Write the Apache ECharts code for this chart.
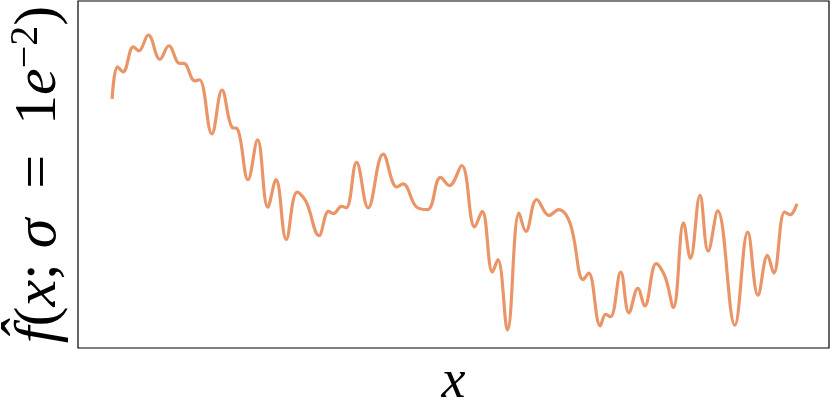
<!DOCTYPE html>
<html>
<head>
<meta charset="utf-8">
<script src="https://cdn.jsdelivr.net/npm/echarts@6/dist/echarts.min.js"></script>
<style>
  html, body { margin: 0; padding: 0; background: #fff; }
  #chart { width: 830px; height: 406px; }
</style>
</head>
<body>
<div id="chart"></div>
<script>
// sample positions and smoothed estimate
const xs = [
  0.000, 0.008, 0.016, 0.031, 0.039, 0.053, 0.070, 0.083, 0.099, 0.105,
  0.121, 0.128, 0.146, 0.161, 0.176, 0.183, 0.199, 0.213, 0.228, 0.240,
  0.255, 0.271, 0.284, 0.303, 0.317, 0.324, 0.336, 0.343, 0.358, 0.375,
  0.397, 0.417, 0.426, 0.446, 0.462, 0.481, 0.494, 0.512, 0.531, 0.542,
  0.557, 0.565, 0.579, 0.596, 0.606, 0.622, 0.640, 0.654, 0.671, 0.690,
  0.698, 0.715, 0.723, 0.730, 0.745, 0.757, 0.770, 0.780, 0.797, 0.810,
  0.822, 0.837, 0.847, 0.861, 0.873, 0.887, 0.912, 0.931, 0.946, 0.960,
  0.969, 0.985, 0.993, 1.003
];
const fHat = [
  0.718, 0.810, 0.796, 0.868, 0.856, 0.902, 0.832, 0.871, 0.820, 0.820,
  0.770, 0.773, 0.617, 0.743, 0.635, 0.633, 0.485, 0.600, 0.406, 0.485,
  0.313, 0.449, 0.422, 0.324, 0.394, 0.387, 0.408, 0.404, 0.535, 0.404,
  0.559, 0.464, 0.473, 0.406, 0.399, 0.492, 0.468, 0.526, 0.349, 0.394,
  0.219, 0.255, 0.052, 0.389, 0.336, 0.428, 0.382, 0.399, 0.358, 0.197,
  0.216, 0.064, 0.097, 0.090, 0.219, 0.101, 0.172, 0.121, 0.243, 0.205,
  0.117, 0.361, 0.258, 0.440, 0.279, 0.395, 0.066, 0.334, 0.152, 0.267,
  0.216, 0.392, 0.384, 0.416
];

const chart = echarts.init(document.getElementById('chart'));
const serif = 'Liberation Serif';

chart.setOption({
  animation: false,
  grid: {
    left: 78,
    right: 1,
    top: 1,
    bottom: 58,
    containLabel: false,
    outerBoundsMode: 'none',
    show: true,
    borderColor: '#000',
    borderWidth: 1.2
  },
  xAxis: {
    type: 'value',
    min: -0.05,
    max: 1.05,
    axisLine: { show: false },
    axisTick: { show: false },
    axisLabel: { show: false },
    splitLine: { show: false },
    name: 'x',
    nameLocation: 'middle',
    nameGap: 8,
    nameTextStyle: {
      fontFamily: serif,
      fontStyle: 'italic',
      fontSize: 54,
      color: '#000'
    }
  },
  yAxis: {
    type: 'value',
    min: 0,
    max: 1,
    axisLine: { show: false },
    axisTick: { show: false },
    axisLabel: { show: false },
    splitLine: { show: false },
    name: '{i|f\u0302}{r|(}{i|x}{r|; }{i|\u03c3}{r|\u2002=\u20021}{i|e}{sup|\u22122}{r|)}',
    nameLocation: 'middle',
    nameRotate: 90,
    nameGap: 6,
    nameTextStyle: {
      color: '#000',
      rich: {
        i: { fontFamily: serif, fontStyle: 'italic', fontSize: 60, color: '#000' },
        r: { fontFamily: serif, fontSize: 60, color: '#000' },
        sup: { fontFamily: serif, fontSize: 40, color: '#000', verticalAlign: 'top', lineHeight: 66 }
      }
    }
  },
  series: [
    {
      type: 'line',
      data: xs.map((x, i) => [x, fHat[i]]),
      showSymbol: false,
      smooth: 0.4,
      lineStyle: { color: '#EA9567', width: 3.2 }
    }
  ]
});
</script>
</body>
</html>
